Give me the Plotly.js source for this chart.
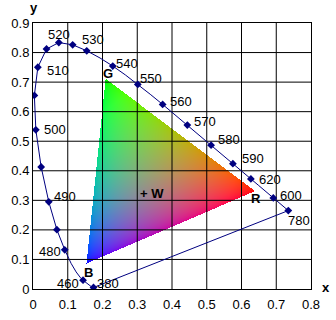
<!DOCTYPE html>
<html><head><meta charset="utf-8">
<script src="https://cdn.plot.ly/plotly-3.0.1.min.js"></script>
<style>html,body{margin:0;padding:0;background:#fff}#chart{width:336px;height:320px}</style>
</head><body><div id="chart"></div>
<script>
// Spectral locus (CIE 1931 2°), wavelength in nm
const locusNm = [380,385,390,395,400,405,410,415,420,425,430,435,440,445,450,455,460,465,470,475,480,485,490,495,500,505,510,515,520,525,530,535,540,545,550,555,560,565,570,575,580,585,590,595,600,605,610,615,620,625,630,635,640,645,650,655,660,665,670,675,680,685,690,695,700,780];
const locusX = [0.1741,0.1740,0.1738,0.1736,0.1733,0.1730,0.1726,0.1721,0.1714,0.1703,0.1689,0.1669,0.1644,0.1611,0.1566,0.1510,0.1440,0.1355,0.1241,0.1096,0.0913,0.0687,0.0454,0.0235,0.0082,0.0039,0.0139,0.0389,0.0743,0.1142,0.1547,0.1929,0.2296,0.2658,0.3016,0.3373,0.3731,0.4087,0.4441,0.4788,0.5125,0.5448,0.5752,0.6029,0.6270,0.6482,0.6658,0.6801,0.6915,0.7006,0.7079,0.7140,0.7190,0.7230,0.7260,0.7283,0.7300,0.7311,0.7320,0.7327,0.7334,0.7340,0.7344,0.7346,0.7347,0.7347];
const locusY = [0.0050,0.0050,0.0049,0.0049,0.0048,0.0048,0.0048,0.0048,0.0051,0.0058,0.0069,0.0086,0.0109,0.0138,0.0177,0.0227,0.0297,0.0399,0.0578,0.0868,0.1327,0.2007,0.2950,0.4127,0.5384,0.6548,0.7502,0.8120,0.8338,0.8262,0.8059,0.7816,0.7543,0.7243,0.6923,0.6589,0.6245,0.5896,0.5547,0.5202,0.4866,0.4544,0.4242,0.3965,0.3725,0.3514,0.3340,0.3197,0.3083,0.2993,0.2920,0.2859,0.2809,0.2770,0.2740,0.2717,0.2700,0.2689,0.2680,0.2673,0.2666,0.2660,0.2656,0.2654,0.2653,0.2653];
// Wavelengths carrying a marker
const markerNm = [380,460,480,485,490,495,500,505,510,515,520,525,530,540,550,560,570,580,590,600,620,780];
// Wavelength labels (anchor wavelength and the text drawn next to it)
const labelNm   = [380,460,480,490,500,510,520,530,540,550,560,570,580,590,600,620,780];
const labelText = ["380","460","480","490","500","510","520","530","540","550","560","570","580","590","620","600","780"];
// Gamut triangle primaries and white point
const primaryName = ["R","G","B"];
const primaryX = [0.64,0.21,0.155];
const primaryY = [0.33,0.71,0.085];
const whiteX = [0.3127];
const whiteY = [0.329];
// Axis ticks
const xTicks = [0,0.1,0.2,0.3,0.4,0.5,0.6,0.7,0.8];
const xTickText = ["0","0.1","0.2","0.3","0.4","0.5","0.6","0.7","0.8"];
const yTicks = [0,0.1,0.2,0.3,0.4,0.5,0.6,0.7,0.8,0.9];
const yTickText = ["0","0.1","0.2","0.3","0.4","0.5","0.6","0.7","0.8","0.9"];

// ---- styling / placement (pixels) ----
const NAVY = '#000080';
const FONT = 'Liberation Sans, Arial, sans-serif';
const labelShift = {380:[14,4],460:[-15,-3],480:[-15,-2],490:[16,5],500:[19,0],510:[20,-3],520:[0,8],530:[6,11],540:[14,3],550:[13,6],560:[18,3],570:[18,4],580:[18,6],590:[20,5],600:[19,-1],620:[18,2],780:[11,-10]};
const primaryShift = {R:[1,-7.5],G:[2,5.6],B:[2,-8.6]};
const X_RANGE = [0,0.8], Y_RANGE = [0,0.9];
const PLOT_W = 278, PLOT_H = 266;

// ---- gamut image: barycentric weights of R,G,B, balanced so W is neutral ----
const dx = (X_RANGE[1]-X_RANGE[0])/PLOT_W, dy = (Y_RANGE[1]-Y_RANGE[0])/PLOT_H;
const xmin = Math.min(...primaryX)-2*dx, xmax = Math.max(...primaryX)+2*dx;
const ymin = Math.min(...primaryY)-2*dy, ymax = Math.max(...primaryY)+2*dy;
const nx = Math.ceil((xmax-xmin)/dx), ny = Math.ceil((ymax-ymin)/dy);
const [Rx,Gx,Bx] = primaryX, [Ry,Gy,By] = primaryY;
const det = (Gy-By)*(Rx-Bx) + (Bx-Gx)*(Ry-By);
function bary(px,py){
  const a = ((Gy-By)*(px-Bx) + (Bx-Gx)*(py-By))/det;
  const b = ((By-Ry)*(px-Bx) + (Rx-Bx)*(py-By))/det;
  return [a,b,1-a-b];
}
const wW = bary(whiteX[0], whiteY[0]);
const z = [];
for (let i=0;i<ny;i++){
  const row=[]; const py = ymin + i*dy;
  for (let j=0;j<nx;j++){
    const px = xmin + j*dx;
    const w = bary(px,py);
    if (w[0]<0||w[1]<0||w[2]<0) { row.push([0,0,0,0]); continue; }
    const q = w.map((v,k)=>v/wW[k]); const s = q[0]+q[1]+q[2];
    const g = v => Math.round(255*Math.pow(Math.min(1,1.15*v/s),0.6));
    row.push([g(q[0]),g(q[1]),g(q[2]),1]);
  }
  z.push(row);
}

// grid lines (interior)
const gx=[], gy=[];
xTicks.slice(1,-1).forEach(t=>{gx.push(t,t,null); gy.push(Y_RANGE[0],Y_RANGE[1],null);});
yTicks.slice(1,-1).forEach(t=>{gx.push(X_RANGE[0],X_RANGE[1],null); gy.push(t,t,null);});

// locus closed with the purple line back to 380
const lineX = locusX.concat([locusX[0]]);
const lineY = locusY.concat([locusY[0]]);
const mX = markerNm.map(n=>locusX[locusNm.indexOf(n)]);
const mY = markerNm.map(n=>locusY[locusNm.indexOf(n)]);

const traces = [
  {type:'image', z:z, x0:xmin, y0:ymin, dx:dx, dy:dy, colormodel:'rgba', hoverinfo:'skip'},
  {type:'scatter', mode:'lines', x:gx, y:gy, line:{color:'#000',width:1}, hoverinfo:'skip'},
  {type:'scatter', mode:'lines', x:lineX, y:lineY, line:{color:NAVY,width:1}, hoverinfo:'skip'},
  {type:'scatter', mode:'markers', x:mX, y:mY, marker:{symbol:'diamond',size:6,color:NAVY}, hoverinfo:'skip'}
];

const ann = [];
labelNm.forEach((n,k)=>{
  const idx = locusNm.indexOf(n); const s = labelShift[n];
  ann.push({x:locusX[idx], y:locusY[idx], xref:'x', yref:'y', text:labelText[k], showarrow:false,
    xshift:s[0], yshift:s[1], font:{family:FONT,size:13,color:'#000'}});
});
primaryName.forEach((p,k)=>{
  const s = primaryShift[p];
  ann.push({x:primaryX[k], y:primaryY[k], xref:'x', yref:'y', text:'<b>'+p+'</b>', showarrow:false,
    xshift:s[0], yshift:s[1], font:{family:FONT,size:13,color:'#000'}});
});
ann.push({x:whiteX[0], y:whiteY[0], xref:'x', yref:'y', text:'<b>+ W</b>', showarrow:false,
  xshift:10.6, yshift:-2, font:{family:FONT,size:13,color:'#000'}});
ann.push({x:1, y:0, xref:'paper', yref:'paper', text:'<b>x</b>', showarrow:false, xanchor:'center', yanchor:'middle',
  xshift:14.5, yshift:2, font:{family:FONT,size:13,color:'#000'}});
ann.push({x:0, y:1, xref:'paper', yref:'paper', text:'<b>y</b>', showarrow:false, xanchor:'center', yanchor:'middle',
  xshift:1, yshift:16, font:{family:FONT,size:13,color:'#000'}});

const axBase = {showgrid:false, zeroline:false, showline:true, mirror:true, linecolor:'#000', linewidth:1,
  ticks:'', tickfont:{family:FONT,size:13,color:'#000'}, fixedrange:true};
const layout = {
  width:336, height:320, margin:{l:33,r:25,t:23,b:31,pad:0}, showlegend:false,
  paper_bgcolor:'#fff', plot_bgcolor:'#fff',
  xaxis:Object.assign({}, axBase, {range:X_RANGE, autorange:false, tickvals:xTicks, ticktext:xTickText, scaleanchor:false, ticklabelstandoff:3}),
  yaxis:Object.assign({}, axBase, {range:Y_RANGE, autorange:false, tickvals:yTicks, ticktext:yTickText, scaleanchor:false}),
  annotations:ann
};
Plotly.newPlot('chart', traces, layout, {staticPlot:true, displayModeBar:false});
</script>
</body></html>
